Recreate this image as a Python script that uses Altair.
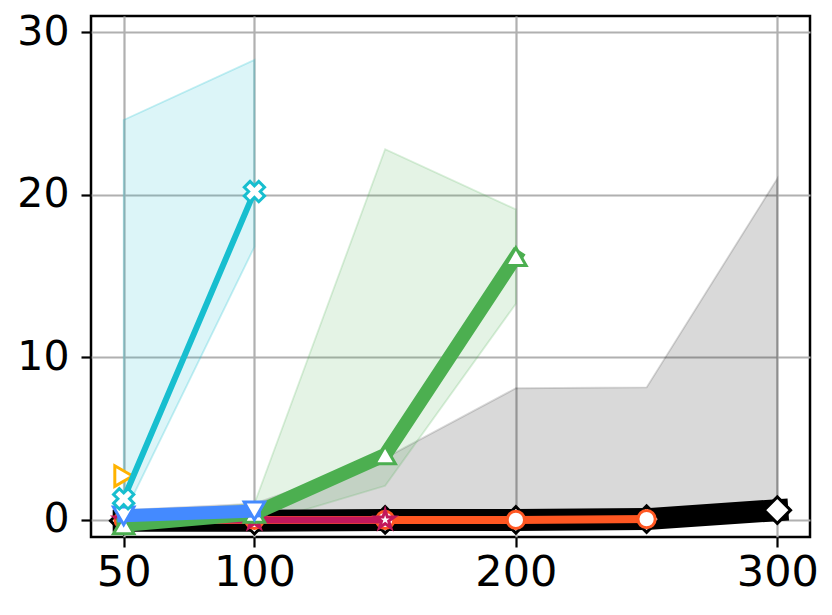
import altair as alt
import pandas as pd

# ---- data ----
x_black = [50, 100, 150, 200, 250, 300]
y_black = [-0.05, -0.05, 0.0, 0.0, 0.05, 0.6]
lo_black = [-0.3, -0.3, -0.3, -0.3, -0.3, 0.2]
hi_black = [0.6, 1.0, 3.8, 8.1, 8.15, 21.0]

x_orange = [50, 100, 150, 200, 250]
y_orange = [0.0, 0.0, 0.0, 0.0, 0.05]

x_crimson = [50, 100, 150]
y_crimson = [0.0, 0.0, 0.0]

x_amber = [50]
y_amber = [2.7]

x_green = [50, 100, 150, 200]
y_green = [-0.3, 0.4, 4.0, 16.2]
lo_green = [-0.6, -0.3, 2.1, 13.3]
hi_green = [0.3, 1.0, 22.8, 19.1]

x_blue = [50, 100]
y_blue = [0.25, 0.55]

x_cyan = [50, 100]
y_cyan = [1.3, 20.2]
lo_cyan = [0.3, 16.8]
hi_cyan = [24.6, 28.3]

x_ticks = [50, 100, 200, 300]
y_ticks = [0, 10, 20, 30]

C_BLACK = "#000000"
C_ORANGE = "#ff5722"
C_CRIMSON = "#c2185b"
C_AMBER = "#ffb300"
C_GREEN = "#4caf50"
C_BLUE = "#448aff"
C_CYAN = "#17becf"

STAR = ("M0,-1 L0.2245,-0.309 L0.951,-0.309 L0.363,0.118 L0.588,0.809 "
        "L0,0.382 L-0.588,0.809 L-0.363,0.118 L-0.951,-0.309 L-0.2245,-0.309 Z")

XS = alt.Scale(domain=[37.5, 312.5], nice=False, zero=False)
YS = alt.Scale(domain=[-1.05, 31], nice=False, zero=False)
XAX = alt.Axis(values=x_ticks, title=None, format="d", labelPadding=4, labelFontSize=43)
YAX = alt.Axis(values=y_ticks, title=None, format="d", labelPadding=12, labelFontSize=41)


def band(xs, lo, hi, color, edge_op):
    df = pd.DataFrame({"x": xs, "lo": lo, "hi": hi})
    return alt.Chart(df).mark_area(
        color=color, fillOpacity=0.15, stroke=color, strokeOpacity=edge_op,
        strokeWidth=1.8, clip=True
    ).encode(x=alt.X("x:Q", scale=XS, axis=XAX),
             y=alt.Y("lo:Q", scale=YS, axis=YAX), y2="hi:Q")


def line(xs, ys, color, width):
    df = pd.DataFrame({"x": xs, "y": ys})
    return alt.Chart(df).mark_line(
        color=color, strokeWidth=width, strokeCap="square", strokeJoin="round", clip=True
    ).encode(x=alt.X("x:Q", scale=XS, axis=XAX), y=alt.Y("y:Q", scale=YS, axis=YAX))


def pts(xs, ys, color, shape, size, angle=0):
    df = pd.DataFrame({"x": xs, "y": ys})
    return alt.Chart(df).mark_point(
        shape=shape, size=size, filled=True, fill="white", stroke=color,
        strokeWidth=3, opacity=1, angle=angle, clip=True
    ).encode(x=alt.X("x:Q", scale=XS, axis=XAX), y=alt.Y("y:Q", scale=YS, axis=YAX))


layers = [
    band(x_black, lo_black, hi_black, C_BLACK, 0.15),
    band(x_green, lo_green, hi_green, C_GREEN, 0.2),
    band(x_cyan, lo_cyan, hi_cyan, C_CYAN, 0.25),
    line(x_black, y_black, C_BLACK, 22),
    pts(x_black, y_black, C_BLACK, "diamond", 700),
    line(x_orange, y_orange, C_ORANGE, 8),
    pts(x_orange, y_orange, C_ORANGE, "circle", 300),
    line(x_crimson, y_crimson, C_CRIMSON, 7),
    pts(x_crimson, y_crimson, C_CRIMSON, STAR, 380),
    pts(x_amber, y_amber, C_AMBER, "triangle-right", 420),
    line(x_green, y_green, C_GREEN, 14),
    pts(x_green, y_green, C_GREEN, "triangle-up", 420),
    line(x_blue, y_blue, C_BLUE, 13),
    pts(x_blue, y_blue, C_BLUE, "triangle-down", 420),
    line(x_cyan, y_cyan, C_CYAN, 6),
    pts(x_cyan, y_cyan, C_CYAN, "cross", 420, angle=45),
]

chart = alt.layer(*layers).properties(
    width=719, height=521,
    autosize=alt.AutoSizeParams(type="none"),
    padding={"left": 83, "top": 8, "right": 14, "bottom": 70},
    background="white",
).configure_view(
    stroke="black", strokeWidth=2.5
).configure_axis(
    grid=True, gridColor="#b0b0b0", gridWidth=2.2,
    domain=False, ticks=True, tickColor="black", tickWidth=2.2, tickSize=10,
    labelFont="DejaVu Sans", labelColor="black",
)

chart.save("out.html", embed_options={"renderer": "svg", "actions": False})
